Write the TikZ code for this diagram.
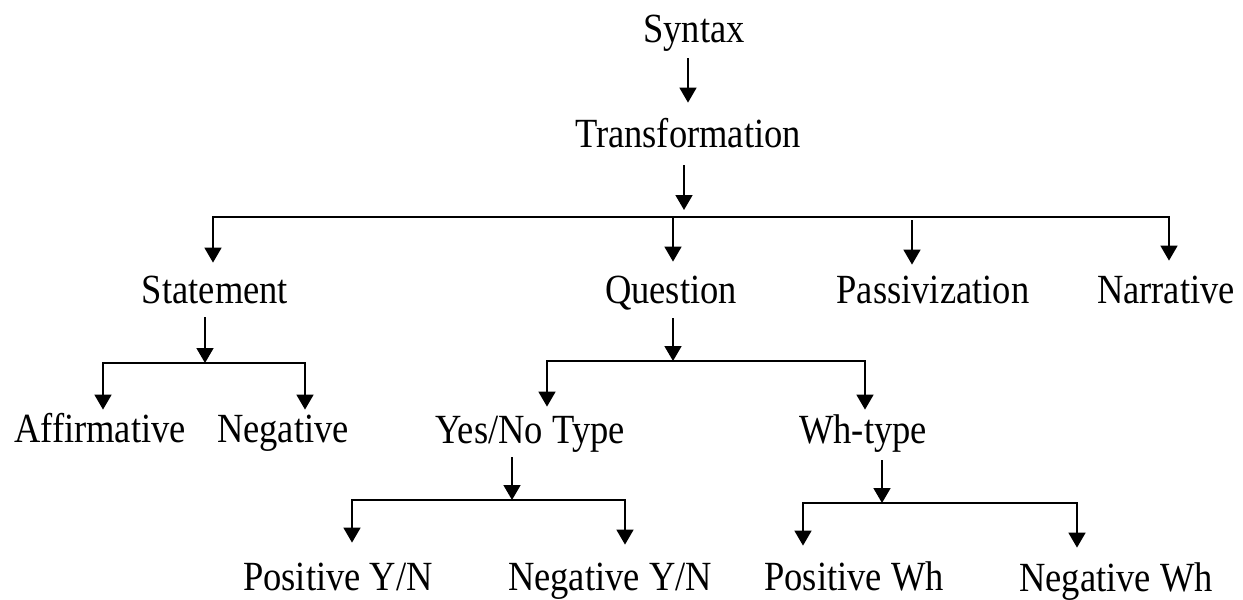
\documentclass[tikz,border=0pt]{standalone}
\usepackage{fontspec}
\setmainfont{Liberation Serif}[FakeStretch=0.88]
\usepackage{tikz}
\usetikzlibrary{arrows.meta}
\tikzset{
  term/.style={inner sep=0pt, anchor=base,
               font=\fontsize{20.75pt}{25pt}\selectfont,
               text height=14.5pt, text depth=4.5pt},
  arrow/.style={->, line width=0.85pt},
  fork/.style={<->, line width=0.85pt},
}

\begin{document}
\begin{tikzpicture}[x=0.5pt, y=-0.5pt, >={Triangle[length=7.5pt, width=8.5pt]}]
  \useasboundingbox (0,0) rectangle (1243,600);

  \node[term] (syntax) at (694,42) {Syntax};
  \node[term] (trans) at (688,147) {Transformation};
  \node[term] (stmt) at (215,303) {Statement};
  \node[term] (quest) at (671,303) {Question};
  \node[term] (pass) at (933,303) {Passivization};
  \node[term] (narr) at (1166,303) {Narrative};
  \node[term] (affirm) at (100,442) {Affirmative};
  \node[term] (neg) at (283,442) {Negative};
  \node[term] (yesno) at (530,443) {Yes/No Type};
  \node[term] (wh) at (863,443) {Wh-type};
  \node[term] (posyn) at (338,590) {Positive Y/N};
  \node[term] (negyn) at (610,590) {Negative Y/N};
  \node[term] (poswh) at (854,590) {Positive Wh};
  \node[term] (negwh) at (1116,591) {Negative Wh};

  % junctions on the bars
  \coordinate (tj) at (684,217);
  \coordinate (ts) at (213,217);
  \coordinate (tq) at (673,217);
  \coordinate (tp) at (912,217);
  \coordinate (tn) at (1169,217);
  \coordinate (sj) at (205,363);
  \coordinate (sl) at (103,363);
  \coordinate (sr) at (305,363);
  \coordinate (qj) at (673,361);
  \coordinate (ql) at (547,361);
  \coordinate (qr) at (865,361);
  \coordinate (yj) at (512,500);
  \coordinate (yl) at (352,500);
  \coordinate (yr) at (625,500);
  \coordinate (wj) at (882,503);
  \coordinate (wl) at (803,503);
  \coordinate (wr) at (1077,503);

  \draw[arrow, shorten <=3.5pt, shorten >=7.5pt] (syntax.south -| trans) -- (trans.north);
  \draw[arrow, shorten <=4.5pt, shorten >=3.5pt] (trans.south -| tj) -- (tj);
  \draw[fork, shorten <=5.5pt, shorten >=6.5pt]
    (ts |- stmt.north) -- (ts) -- (tn) -- (tn |- narr.north);
  \draw[arrow, shorten >=6pt] (tq) -- (tq |- quest.north);
  \draw[arrow, shorten <=1.5pt, shorten >=4.5pt] (tp) -- (tp |- pass.north);

  \draw[arrow, shorten <=2.5pt] (stmt.south -| sj) -- (sj);
  \draw[fork, shorten <=1.5pt, shorten >=1.5pt]
    (sl |- affirm.north) -- (sl) -- (sr) -- (sr |- neg.north);

  \draw[arrow, shorten <=3pt] (quest.south -| qj) -- (qj);
  \draw[fork, shorten <=3.5pt, shorten >=2pt]
    (ql |- yesno.north) -- (ql) -- (qr) -- (qr |- wh.north);

  \draw[arrow, shorten <=2.5pt] (yesno.south -| yj) -- (yj);
  \draw[fork, shorten <=9pt, shorten >=8pt]
    (yl |- posyn.north) -- (yl) -- (yr) -- (yr |- negyn.north);

  \draw[arrow, shorten <=4pt] (wh.south -| wj) -- (wj);
  \draw[fork, shorten <=7.5pt, shorten >=7pt]
    (wl |- poswh.north) -- (wl) -- (wr) -- (wr |- negwh.north);
\end{tikzpicture}
\end{document}
